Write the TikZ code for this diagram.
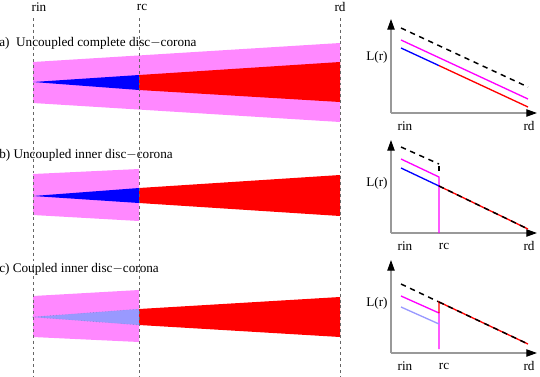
\documentclass[tikz,border=0pt]{standalone}
\usepackage{fontspec}
\setmainfont{Liberation Serif}
\usetikzlibrary{arrows.meta}
\definecolor{bandmag}{HTML}{FF88FF}
\definecolor{discblue}{HTML}{0000FF}
\definecolor{discred}{HTML}{FF0000}
\definecolor{lightblue}{HTML}{9999FF}
\definecolor{linemag}{HTML}{FF00FF}
\definecolor{axisgray}{HTML}{999999}
\tikzset{
  lbl/.style={inner sep=0pt, font=\fontsize{9.9}{11}\selectfont},
  guide/.style={draw=gray!80!black, line width=0.4pt, dash pattern=on 2.2pt off 2.2pt},
  axis/.style={draw=axisgray, line width=0.9pt, -{Triangle[length=8pt,width=5.5pt,fill=black,color=black]}},
  curve/.style={line width=1pt},
  envdash/.style={black, line width=1.1pt, dash pattern=on 4pt off 3.5pt},
}
\begin{document}
\begin{tikzpicture}[x=0.75pt,y=-0.75pt]
\useasboundingbox (0,0) rectangle (540,376);
% ---------- panel a ----------
\fill[bandmag] (33,62) -- (340,43) -- (340,122) -- (33,103) -- cycle;
\fill[discblue] (33,82) -- (139,75) -- (139,90) -- cycle;
\fill[discred] (139,75) -- (340,62) -- (340,102) -- (139,90) -- cycle;
% ---------- panel b ----------
\fill[bandmag] (33,174) -- (139,169) -- (139,221) -- (33,215) -- cycle;
\fill[discblue] (33,196) -- (139,188) -- (139,203) -- cycle;
\fill[discred] (139,188) -- (340,175) -- (340,216) -- (139,203) -- cycle;
% ---------- panel c ----------
\fill[bandmag] (33,296) -- (139,290) -- (139,342) -- (33,337) -- cycle;
\draw[lightblue!70!black, line width=0.3pt, dotted, fill=lightblue] (32,317) -- (139,309) -- (139,325) -- cycle;
\fill[discred] (139,309) -- (340,297) -- (340,337) -- (139,325) -- cycle;
% ---------- guide lines and labels ----------
\node[lbl] (rin) at (39,7) {rin};
\node[lbl] (rc) at (142,7) {rc};
\node[lbl] (rd) at (340,7) {rd};
\coordinate (rinb) at (33,376);
\coordinate (rcb) at (139,376);
\coordinate (rdb) at (340,376);
\draw[guide] (33,18) -- (rinb);
\draw[guide] (139,18) -- (rcb);
\draw[guide] (340,18) -- (rdb);
\node[lbl, anchor=west] (la) at (-1,43) {a)\ \ Uncoupled complete disc$-$corona};
\node[lbl, anchor=west] (lb) at (-1,155) {b) Uncoupled inner disc$-$corona};
\node[lbl, anchor=west] (lc) at (-1,269) {c) Coupled inner disc$-$corona};
% ---------- plot a ----------
\coordinate (oa) at (391,113);
\draw[axis] (oa) -- (391,19);
\draw[axis] (oa) -- (537,113);
\node[lbl] (La) at (377,57) {L(r)};
\node[lbl] (ra1) at (405,126) {rin};
\node[lbl] (ra3) at (529,126) {rd};
\draw[envdash] (401,28) -- (528,87);
\draw[curve, linemag] (401,40) -- (528,99);
\draw[curve, discblue] (401,48) -- (439,65.6);
\draw[curve, discred] (439,65.6) -- (528,107);
% ---------- plot b ----------
\coordinate (ob) at (391,233);
\draw[axis] (ob) -- (391,140);
\draw[axis] (ob) -- (537,233);
\node[lbl] (Lb) at (377,183) {L(r)};
\node[lbl] (rb1) at (405,246) {rin};
\node[lbl] (rb2) at (444,246) {rc};
\node[lbl] (rb3) at (529,246) {rd};
\draw[envdash] (401,147) -- (439,164);
\draw[black, line width=1.1pt] (439,166) -- (439,171);
\draw[curve, linemag] (401,159) -- (439,177) -- (439,233);
\draw[curve, discblue] (401,168) -- (439,186);
\draw[curve, discred] (439,186) -- (528,229);
\draw[envdash] (439,186) -- (528,229);
% ---------- plot c ----------
\coordinate (oc) at (391,353);
\draw[axis] (oc) -- (391,260);
\draw[axis] (oc) -- (537,353);
\node[lbl] (Lc) at (377,303) {L(r)};
\node[lbl] (rc1) at (405,366) {rin};
\node[lbl] (rc2) at (444,366) {rc};
\node[lbl] (rc3) at (529,366) {rd};
\draw[envdash] (401,284) -- (439,302);
\draw[curve, linemag] (401,296) -- (439,313) -- (439,349);
\draw[curve, lightblue] (401,307) -- (439,324);
\draw[curve, discred] (439,313) -- (439,302) -- (528,344);
\draw[envdash] (439,302) -- (528,344);
\end{tikzpicture}
\end{document}
